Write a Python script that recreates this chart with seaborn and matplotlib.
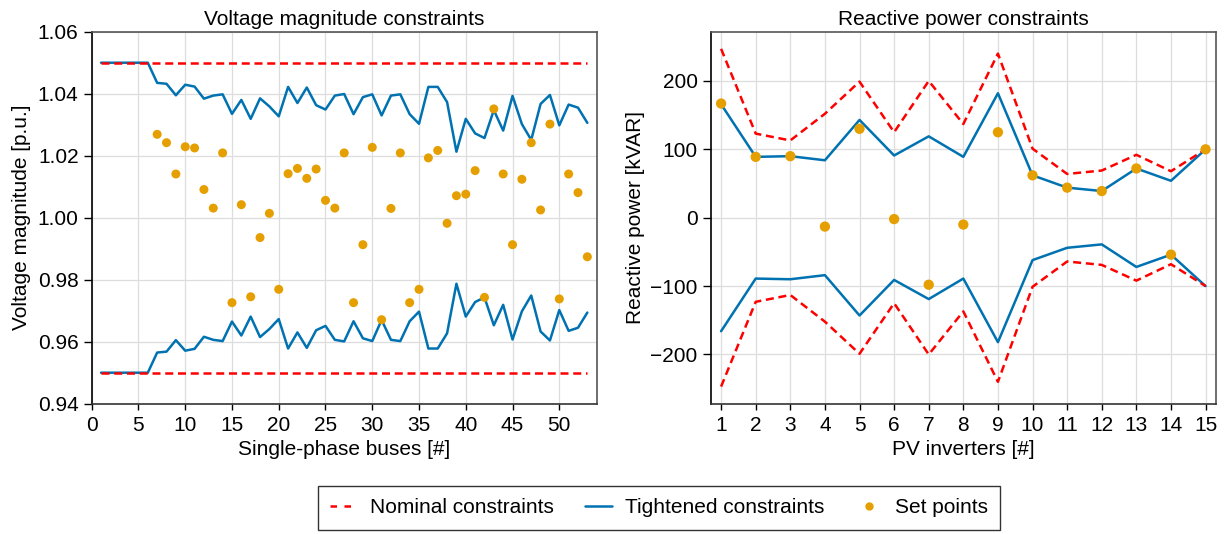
import numpy as np
import pandas as pd
import seaborn as sns
import matplotlib
matplotlib.use("Agg")
import matplotlib.pyplot as plt
from matplotlib.lines import Line2D

# ---------------- data ----------------
buses = list(range(1, 54))
v_nominal_upper = [1.05] * 53
v_nominal_lower = [0.95] * 53
v_tight_upper = [1.05, 1.05, 1.05, 1.05, 1.05, 1.05,
                 1.0435, 1.0432, 1.0395, 1.0429, 1.0423, 1.0384, 1.0394, 1.0398, 1.0335,
                 1.0380, 1.0319, 1.0385, 1.0359, 1.0327, 1.0422, 1.0370, 1.0420, 1.0363,
                 1.0349, 1.0394, 1.0399, 1.0334, 1.0389, 1.0398, 1.0330, 1.0394, 1.0398,
                 1.0334, 1.0303, 1.0422, 1.0422, 1.0373, 1.0213, 1.0319, 1.0272, 1.0257,
                 1.0347, 1.0281, 1.0393, 1.0302, 1.0251, 1.0367, 1.0396, 1.0298, 1.0365,
                 1.0355, 1.0306]
v_tight_lower = [0.95, 0.95, 0.95, 0.95, 0.95, 0.95,
                 0.9565, 0.9568, 0.9605, 0.9571, 0.9577, 0.9616, 0.9606, 0.9602, 0.9665,
                 0.9620, 0.9681, 0.9615, 0.9641, 0.9673, 0.9578, 0.9630, 0.9580, 0.9637,
                 0.9651, 0.9606, 0.9601, 0.9666, 0.9611, 0.9602, 0.9670, 0.9606, 0.9602,
                 0.9666, 0.9697, 0.9578, 0.9578, 0.9627, 0.9787, 0.9681, 0.9728, 0.9743,
                 0.9653, 0.9719, 0.9607, 0.9698, 0.9749, 0.9633, 0.9604, 0.9702, 0.9635,
                 0.9645, 0.9694]
sp_buses = list(range(7, 54))
v_setpoints = [1.0269, 1.0242, 1.0141, 1.0229, 1.0225, 1.0091, 1.0031, 1.0209, 0.9726,
               1.0042, 0.9745, 0.9936, 1.0014, 0.9769, 1.0142, 1.0159, 1.0127, 1.0157,
               1.0056, 1.0031, 1.0209, 0.9726, 0.9913, 1.0227, 0.9671, 1.0030, 1.0209,
               0.9726, 0.9769, 1.0193, 1.0217, 0.9982, 1.0071, 1.0076, 1.0152, 0.9743,
               1.0351, 1.0141, 0.9913, 1.0124, 1.0242, 1.0025, 1.0302, 0.9738, 1.0141,
               1.0081, 0.9874]

inverters = list(range(1, 16))
q_nominal_upper = [247, 123, 113, 152, 199, 125, 200, 137, 240, 101, 64, 69, 92, 68, 100]
q_nominal_lower = [-247, -123, -113, -152, -199, -125, -200, -137, -240, -101, -64, -69, -92, -68, -100]
q_tight_upper = [166, 89, 90, 84, 143, 91, 119, 89, 182, 62, 44, 39, 72, 54, 100]
q_tight_lower = [-166, -89, -90, -84, -143, -91, -119, -89, -182, -62, -44, -39, -72, -54, -100]
q_setpoints = [167, 89, 90, -13, 130, -2, -98, -10, 125, 62, 44, 39, 72, -54, 100]

RED = "#FF0000"
BLUE = "#0072B2"
ORANGE = "#E69F00"

sns.set_theme(style="whitegrid")
plt.rcParams["font.family"] = ["Liberation Sans", "DejaVu Sans"]
plt.rcParams["font.size"] = 15
plt.rcParams["text.color"] = "black"
plt.rcParams["axes.labelcolor"] = "black"
plt.rcParams["xtick.color"] = "black"
plt.rcParams["ytick.color"] = "black"

fig = plt.figure(figsize=(12.26, 5.34), dpi=100)
ax1 = fig.add_axes([0.0748, 0.244, 0.4119, 0.6966])
ax2 = fig.add_axes([0.5797, 0.244, 0.4121, 0.6966])

LW = 1.8
DASH = (3.2, 1.9)

# left panel
sns.lineplot(x=buses, y=v_tight_upper, ax=ax1, color=BLUE, lw=LW, zorder=3)
sns.lineplot(x=buses, y=v_tight_lower, ax=ax1, color=BLUE, lw=LW, zorder=3)
sns.lineplot(x=buses, y=v_nominal_upper, ax=ax1, color=RED, lw=LW, zorder=4)
ax1.lines[-1].set_dashes(DASH)
sns.lineplot(x=buses, y=v_nominal_lower, ax=ax1, color=RED, lw=LW, zorder=4)
ax1.lines[-1].set_dashes(DASH)
sns.scatterplot(x=sp_buses, y=v_setpoints, ax=ax1, color=ORANGE, s=42,
                edgecolor="none", zorder=5)

ax1.set_xlim(0, 54)
ax1.set_ylim(0.94, 1.06)
ax1.set_xticks(range(0, 51, 5))
yt = np.arange(0.94, 1.061, 0.02)
ax1.set_yticks(yt)
ax1.set_yticklabels([f"{v:.2f}" for v in yt])
ax1.set_title("Voltage magnitude constraints", fontsize=15, pad=5)
ax1.set_xlabel("Single-phase buses [#]", fontsize=15, labelpad=4)
ax1.set_ylabel("Voltage magnitude [p.u.]", fontsize=15, labelpad=5)

# right panel
sns.lineplot(x=inverters, y=q_tight_upper, ax=ax2, color=BLUE, lw=LW, zorder=3)
sns.lineplot(x=inverters, y=q_tight_lower, ax=ax2, color=BLUE, lw=LW, zorder=3)
sns.lineplot(x=inverters, y=q_nominal_upper, ax=ax2, color=RED, lw=LW, zorder=4)
ax2.lines[-1].set_dashes(DASH)
sns.lineplot(x=inverters, y=q_nominal_lower, ax=ax2, color=RED, lw=LW, zorder=4)
ax2.lines[-1].set_dashes(DASH)
sns.scatterplot(x=inverters, y=q_setpoints, ax=ax2, color=ORANGE, s=55,
                edgecolor="none", zorder=5)

ax2.set_xlim(0.7, 15.3)
ax2.set_ylim(-272, 272)
ax2.set_xticks(inverters)
ax2.set_yticks([-200, -100, 0, 100, 200])
ax2.set_title("Reactive power constraints", fontsize=15, pad=5)
ax2.set_xlabel("PV inverters [#]", fontsize=15, labelpad=4)
ax2.set_ylabel("Reactive power [kVAR]", fontsize=15, labelpad=4)

for ax in (ax1, ax2):
    ax.grid(True, color="#dddddd", lw=0.9)
    ax.set_facecolor("white")
    ax.spines["left"].set_color("black")
    ax.spines["bottom"].set_color("#333333")
    for side in ("top", "right"):
        ax.spines[side].set_color("#555555")
    for side in ax.spines:
        ax.spines[side].set_linewidth(1.2)
    ax.tick_params(axis="x", which="major", labelsize=15, direction="out",
                   length=4.5, width=1.0, color="black", bottom=True, top=False, pad=4)
    ax.tick_params(axis="y", which="major", labelsize=15, direction="out",
                   length=5.5, width=1.0, color="black", left=True, right=False, pad=4)
    leg = ax.get_legend()
    if leg is not None:
        leg.remove()

handles = [
    Line2D([], [], color=RED, lw=LW, dashes=(2.6, 3.0)),
    Line2D([], [], color=BLUE, lw=LW),
    Line2D([], [], color=ORANGE, lw=0, marker="o", markersize=6, markeredgecolor="none"),
]
labels = ["Nominal constraints", "Tightened constraints", "Set points"]
lg = fig.legend(handles, labels, loc="center", bbox_to_anchor=(0.5375, 0.049), ncol=3,
                fontsize=15, frameon=True, fancybox=False, edgecolor="black",
                handlelength=1.3, handletextpad=0.6, columnspacing=1.5,
                borderpad=0.6)
lg.get_frame().set_linewidth(1.0)

fig.savefig("out.png", dpi=100)
